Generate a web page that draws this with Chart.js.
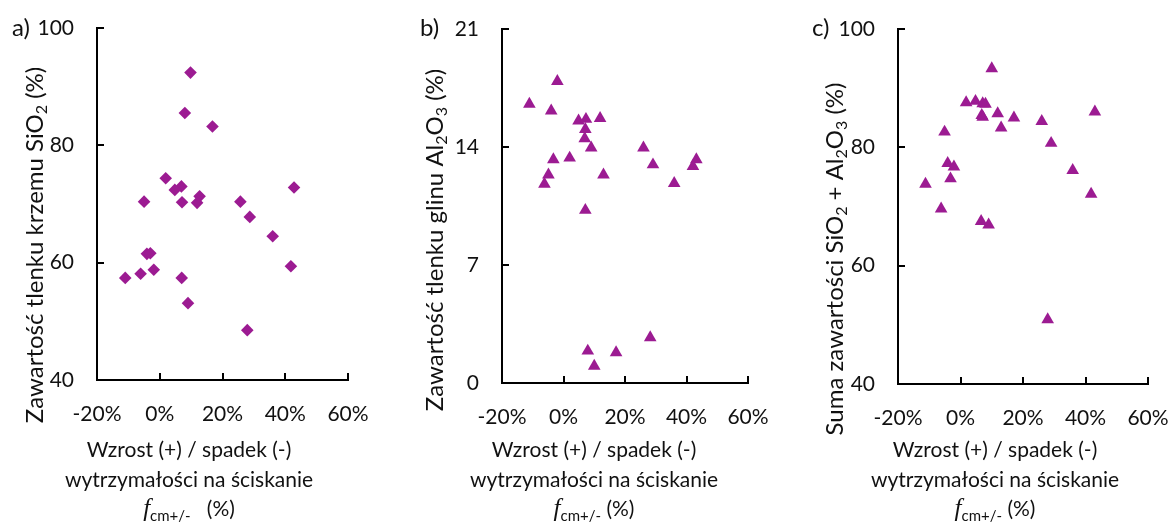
<!DOCTYPE html>
<html><head><meta charset="utf-8">
<script src="https://cdn.jsdelivr.net/npm/chart.js@4.4.1/dist/chart.umd.min.js"></script>
<style>
html,body{margin:0;padding:0;background:#fff;}
#wrap{position:relative;width:1171px;height:523px;overflow:hidden;background:#fff;}
canvas{position:absolute;top:0;}
</style></head><body>
<div id="wrap">
<canvas id="ca" width="390" height="523" style="left:0px"></canvas>
<canvas id="cb" width="390" height="523" style="left:390px"></canvas>
<canvas id="cc" width="391" height="523" style="left:780px"></canvas>
</div>
<script>
// ---- data ----
const xTickValues = [-20, 0, 20, 40, 60];

const xA = [9.8, 8.0, 16.8, 1.9, 6.9, 4.8, -5.0, 7.1, 12.7, 11.9, 25.7, 28.7, 42.8, 36.0, -4.1, -3.0, -11.0, -6.1, -1.9, 7.0, 9.0, 27.9, 41.8];
const yA = [92.4, 85.5, 83.2, 74.4, 73.0, 72.4, 70.4, 70.3, 71.3, 70.2, 70.4, 67.8, 72.8, 64.5, 61.5, 61.6, 57.4, 58.1, 58.8, 57.4, 53.1, 48.5, 59.4];
const yTicksA = [40, 60, 80, 100];

const xB = [-2.0, -11.1, -4.0, 4.9, 7.3, 11.9, 7.1, 6.9, 9.0, 26.0, 2.0, -3.3, 29.1, 43.2, 42.1, -4.9, 13.0, -6.2, 36.0, 7.1, 7.9, 17.1, 10.0, 28.2];
const yB = [17.9, 16.55, 16.15, 15.55, 15.65, 15.7, 15.05, 14.5, 13.95, 13.95, 13.35, 13.25, 12.95, 13.25, 12.85, 12.35, 12.35, 11.8, 11.85, 10.25, 1.9, 1.8, 1.0, 2.7];
const yTicksB = [0, 7, 14, 21];

const xC = [10.0, 1.8, 4.8, 7.1, 8.0, 6.8, 7.1, 11.9, 17.1, 26.0, 43.0, 13.0, -5.1, 29.0, -4.1, -2.1, -3.2, 35.9, -11.2, 41.8, -6.2, 6.6, 9.0, 27.9];
const yC = [93.3, 87.55, 87.8, 87.4, 87.3, 85.4, 85.1, 85.7, 85.0, 84.4, 86.0, 83.3, 82.6, 80.7, 77.3, 76.7, 74.7, 76.1, 73.8, 72.1, 69.6, 67.5, 66.9, 50.9];
const yTicksC = [40, 60, 80, 100];

// ---- styles ----
const PURPLE = '#9C1B92';
const TXT = '#111';
const FN = 'Lato';
const F_MAIN = '21px ' + FN;
const F_YT = '24px ' + FN;
const F_YSUB = '16px ' + FN;
const F_SUB2 = '15px ' + FN;
const F_LAB = '24px ' + FN;
const F_ITAL = 'italic 25px "Liberation Serif"';

function drawRich(ctx, segs, x, y, rotate) {
  ctx.save();
  ctx.translate(x, y);
  if (rotate) ctx.rotate(-Math.PI / 2);
  let total = 0;
  segs.forEach(s => { ctx.font = s.f; s.w = ctx.measureText(s.t).width; total += s.w; });
  let cx = -total / 2;
  ctx.fillStyle = TXT;
  ctx.textBaseline = 'alphabetic';
  ctx.textAlign = 'left';
  segs.forEach(s => { ctx.font = s.f; ctx.fillText(s.t, cx, s.dy || 0); cx += s.w; });
  ctx.restore();
}

function makeDeco(cfg) {
  return {
    id: 'deco',
    beforeDatasetsDraw(chart) {
      const ctx = chart.ctx;
      const xs = chart.scales.x, ys = chart.scales.y;
      const a = chart.chartArea;
      ctx.save();
      ctx.strokeStyle = '#000';
      ctx.lineWidth = 2;
      ctx.beginPath();
      xs.ticks.forEach(t => {
        const px = Math.round(xs.getPixelForValue(t.value));
        ctx.moveTo(px, a.bottom);
        ctx.lineTo(px, a.bottom - 7);
      });
      ys.ticks.forEach(t => {
        const py = Math.round(ys.getPixelForValue(t.value));
        ctx.moveTo(a.left, py);
        ctx.lineTo(a.left + 7, py);
      });
      ctx.stroke();
      ctx.restore();
    },
    afterDraw(chart) {
      const ctx = chart.ctx;
      ctx.save();
      ctx.fillStyle = TXT;
      ctx.font = F_LAB;
      ctx.textAlign = 'left';
      ctx.textBaseline = 'alphabetic';
      ctx.fillText(cfg.label, cfg.labelX, 36);
      ctx.restore();
      drawRich(ctx, cfg.yTitle, cfg.yTitleX, cfg.yTitleY, true);
      cfg.xLines.forEach((ln, i) => drawRich(ctx, ln, cfg.xTitleX, cfg.xBase[i], false));
    }
  };
}

function makeChart(id, xs, ys, yTicks, style, radius, lay, cfg) {
  const pts = xs.map((v, i) => ({ x: v, y: ys[i] }));
  return new Chart(document.getElementById(id), {
    type: 'scatter',
    data: { datasets: [{ data: pts, pointStyle: style, pointRadius: radius, pointHoverRadius: radius,
      backgroundColor: PURPLE, borderColor: PURPLE, borderWidth: 0 }] },
    options: {
      responsive: false, animation: false, events: [],
      layout: { padding: { left: 0, right: lay.right, top: lay.top, bottom: 0 } },
      plugins: { legend: { display: false }, tooltip: { enabled: false } },
      scales: {
        x: {
          type: 'linear', min: xTickValues[0], max: xTickValues[xTickValues.length - 1],
          afterBuildTicks: s => { s.ticks = xTickValues.map(v => ({ value: v })); },
          afterFit: s => { s.height = lay.xh; },
          grid: { display: true, drawOnChartArea: false, drawTicks: true, tickLength: 22, tickColor: 'rgba(0,0,0,0)' },
          border: { display: true, color: '#000', width: 2 },
          ticks: { color: TXT, font: { family: FN, size: 21 }, padding: 0, maxRotation: 0,
            callback: v => v + '%' }
        },
        y: {
          type: 'linear', min: yTicks[0], max: yTicks[yTicks.length - 1],
          afterBuildTicks: s => { s.ticks = yTicks.map(v => ({ value: v })); },
          afterFit: s => { s.width = lay.yw; },
          grid: { display: true, drawOnChartArea: false, drawTicks: true, tickLength: 23, tickColor: 'rgba(0,0,0,0)' },
          border: { display: true, color: '#000', width: 2 },
          ticks: { color: TXT, font: { family: FN, size: 21 }, padding: 0 }
        }
      }
    },
    plugins: [makeDeco(cfg)]
  });
}

const xLinesA = [
  [{ t: 'Wzrost (+) / spadek (-)', f: F_MAIN }],
  [{ t: 'wytrzymałości na ściskanie', f: F_MAIN }],
  [{ t: 'f', f: F_ITAL }, { t: 'cm+/-', f: F_SUB2, dy: 5 }, { t: '   (%)', f: F_MAIN }]
];
const xLinesBC = [
  [{ t: 'Wzrost (+) / spadek (-)', f: F_MAIN }],
  [{ t: 'wytrzymałości na ściskanie', f: F_MAIN }],
  [{ t: 'f', f: F_ITAL }, { t: 'cm+/-', f: F_SUB2, dy: 5 }, { t: ' (%)', f: F_MAIN }]
];

makeChart('ca', xA, yA, yTicksA, 'rectRot', 6.3,
  { right: 42, top: 28, xh: 143, yw: 97 },
  { label: 'a)', labelX: 12,
    yTitle: [{ t: 'Zawartość tlenku krzemu SiO', f: F_YT }, { t: '2', f: F_YSUB, dy: 4 }, { t: ' (%)', f: F_YT }],
    yTitleX: 43, yTitleY: 245,
    xLines: xLinesA, xTitleX: 189, xBase: [457, 487, 516] });

makeChart('cb', xB, yB, yTicksB, 'triangle', 7.3,
  { right: 32, top: 29, xh: 140, yw: 112 },
  { label: 'b)', labelX: 30,
    yTitle: [{ t: 'Zawartość tlenku glinu Al', f: F_YT }, { t: '2', f: F_YSUB, dy: 4 }, { t: 'O', f: F_YT }, { t: '3', f: F_YSUB, dy: 4 }, { t: ' (%)', f: F_YT }],
    yTitleX: 53, yTitleY: 240,
    xLines: xLinesBC, xTitleX: 204, xBase: [457, 487, 516] });

makeChart('cc', xC, yC, yTicksC, 'triangle', 7.3,
  { right: 23, top: 29, xh: 139, yw: 118 },
  { label: 'c)', labelX: 32,
    yTitle: [{ t: 'Suma zawartości SiO', f: F_YT }, { t: '2', f: F_YSUB, dy: 4 }, { t: ' + Al', f: F_YT }, { t: '2', f: F_YSUB, dy: 4 }, { t: 'O', f: F_YT }, { t: '3', f: F_YSUB, dy: 4 }, { t: ' (%)', f: F_YT }],
    yTitleX: 63, yTitleY: 259,
    xLines: xLinesBC, xTitleX: 215, xBase: [457, 487, 516] });
</script>
</body></html>
